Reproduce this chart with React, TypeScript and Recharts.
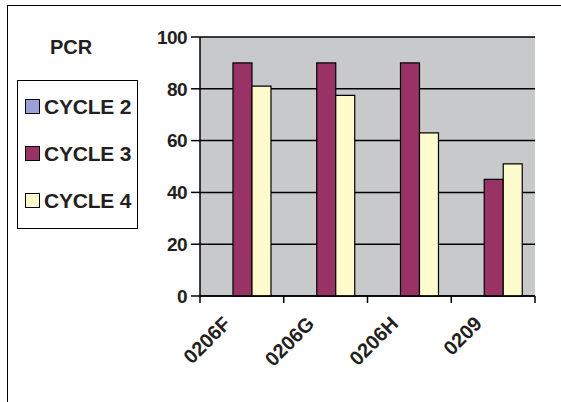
import React from 'react';
import { BarChart, Bar, XAxis, YAxis, CartesianGrid } from 'recharts';

const categories = ['0206F', '0206G', '0206H', '0209'];
const cycle2: (number | null)[] = [null, null, null, null];
const cycle3 = [90, 90, 90, 45];
const cycle4 = [81, 77.5, 63, 51];
const yTicks = [0, 20, 40, 60, 80, 100];
const seriesNames = ['CYCLE 2', 'CYCLE 3', 'CYCLE 4'];
const seriesColors = ['#9c9fd3', '#993366', '#fefbcd'];
const chartTitle = 'PCR';

const data = categories.map((name, i) => ({
  name,
  c2: cycle2[i],
  c3: cycle3[i],
  c4: cycle4[i],
}));

const FONT = '"Liberation Sans", Arial, sans-serif';
const TEXT = '#231f20';

const XTick = (props: any) => {
  const { x, y, payload, index } = props;
  const half = payload && payload.offset != null ? payload.offset : 41.9;
  const last = index === categories.length - 1;
  const ax = x - 10;
  const ay = y + 29;
  return (
    <g>
      <line x1={x - half} x2={x - half} y1={y} y2={y + 7} stroke="#000" strokeWidth={1.5} />
      {last && <line x1={x + half} x2={x + half} y1={y} y2={y + 7} stroke="#000" strokeWidth={1.5} />}
      <text
        x={ax}
        y={ay}
        textAnchor="end"
        transform={`rotate(-45 ${ax} ${ay})`}
        fontFamily={FONT}
        fontWeight="bold"
        fontSize={20}
        fill={TEXT}
      >
        {payload.value}
      </text>
    </g>
  );
};

const LegendBox = () => (
  <div
    style={{
      position: 'absolute',
      left: 17,
      top: 80,
      width: 119,
      height: 145,
      border: '1px solid #000',
      paddingTop: 2,
      boxSizing: 'content-box',
      fontFamily: FONT,
      fontWeight: 'bold',
      fontSize: 21,
      color: TEXT,
      background: '#fff',
    }}
  >
    {seriesNames.map((n, i) => (
      <div key={n} style={{ height: 47, display: 'flex', alignItems: 'center' }}>
        <div
          style={{
            width: 13,
            height: 13,
            marginLeft: 7,
            marginRight: 4,
            border: '1px solid #000',
            background: seriesColors[i],
          }}
        />
        <span style={{ whiteSpace: 'nowrap', letterSpacing: -0.2 }}>{n}</span>
      </div>
    ))}
  </div>
);

export default function App() {
  return (
    <div style={{ position: 'absolute', left: 0, top: 0, width: 561, height: 402, background: '#fff' }}>
      <div
        style={{
          position: 'absolute',
          left: 7,
          top: 5,
          width: 554,
          height: 397,
          borderTop: '1px solid #000',
          borderLeft: '1px solid #000',
        }}
      />
      <div
        style={{
          position: 'absolute',
          left: 50,
          top: 37,
          lineHeight: '20px',
          fontFamily: FONT,
          fontWeight: 'bold',
          fontSize: 20,
          color: TEXT,
        }}
      >
        {chartTitle}
      </div>
      <LegendBox />
      <BarChart
        width={561}
        height={402}
        data={data}
        margin={{ top: 37, right: 26, bottom: 46, left: 140 }}
        barCategoryGap="16.7%"
        barGap={0}
        style={{ position: 'absolute', left: 0, top: 0 }}
      >
        <CartesianGrid vertical={false} stroke="#000" strokeWidth={1.5} fill="#c8c9cb" fillOpacity={1} />
        <XAxis
          dataKey="name"
          height={60}
          axisLine={{ stroke: '#000', strokeWidth: 1.5 }}
          tickLine={false}
          tickSize={0}
          tickMargin={0}
          interval={0}
          tick={<XTick />}
        />
        <XAxis
          xAxisId="top"
          dataKey="name"
          orientation="top"
          height={0}
          tick={false}
          tickLine={false}
          axisLine={{ stroke: '#8a8a8a', strokeWidth: 2 }}
        />
        <YAxis
          width={60}
          domain={[0, 100]}
          ticks={yTicks}
          interval={0}
          axisLine={{ stroke: '#000', strokeWidth: 1.5 }}
          tickLine={{ stroke: '#000', strokeWidth: 1.5 }}
          tickSize={9}
          tickMargin={4}
          tick={{ fontFamily: FONT, fontWeight: 'bold', fontSize: 19, fill: TEXT, letterSpacing: -0.6 }}
        />
        <YAxis
          yAxisId="right"
          orientation="right"
          width={0}
          domain={[0, 100]}
          tick={false}
          tickLine={false}
          axisLine={{ stroke: '#8a8a8a', strokeWidth: 2 }}
        />
        <Bar dataKey="c2" name={seriesNames[0]} fill={seriesColors[0]} stroke="#000" strokeWidth={1.2} isAnimationActive={false} />
        <Bar dataKey="c3" name={seriesNames[1]} fill={seriesColors[1]} stroke="#000" strokeWidth={1.2} isAnimationActive={false} />
        <Bar dataKey="c4" name={seriesNames[2]} fill={seriesColors[2]} stroke="#000" strokeWidth={1.2} isAnimationActive={false} />
      </BarChart>
    </div>
  );
}
